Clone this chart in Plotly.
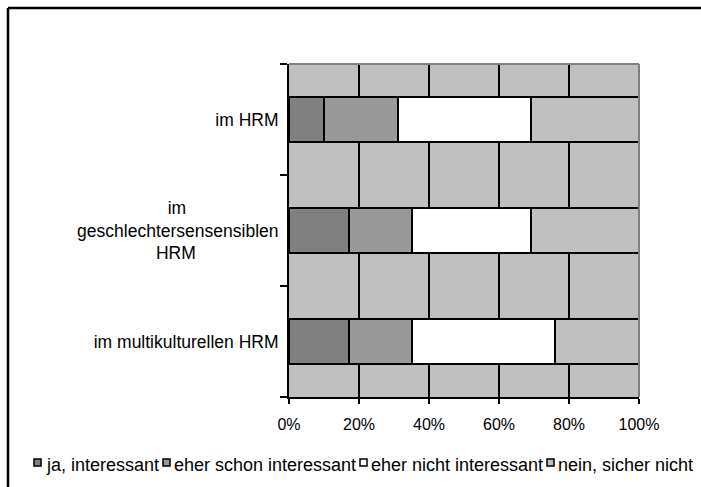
import plotly.graph_objects as go

NB = "\u00a0"
categories = ["im HRM",
              "im" + NB * 19 + "<br>geschlechtersensensiblen<br>HRM" + NB * 17,
              "im multikulturellen HRM"]
series_names = ["ja, interessant", "eher schon interessant", "eher nicht interessant", "nein, sicher nicht"]
ja = [10, 17, 17]
eher_schon = [21, 18, 18]
eher_nicht = [38, 34, 41]
nein = [31, 31, 24]
colors = ["#808080", "#999999", "#FFFFFF", "#C0C0C0"]
tick_vals = [0, 20, 40, 60, 80, 100]
tick_text = ["0%", "20%", "40%", "60%", "80%", "100%"]

W, H = 701, 487
ML, MR, MT, MB = 289, 62, 64, 90
PW, PH = W - ML - MR, H - MT - MB


def px_x(x):
    return (x - ML) / PW


def px_y(y):
    return (H - MB - y) / PH


FONT = "Liberation Sans, Arial, sans-serif"

fig = go.Figure()
for name, vals, col in zip(series_names, [ja, eher_schon, eher_nicht, nein], colors):
    fig.add_trace(go.Bar(
        y=categories, x=vals, name=name, orientation="h",
        marker=dict(color=col, line=dict(color="black", width=2)),
        width=0.4, showlegend=False,
    ))

fig.update_layout(
    barmode="stack",
    width=W, height=H,
    margin=dict(l=ML, r=MR, t=MT, b=MB),
    paper_bgcolor="white",
    plot_bgcolor="#C0C0C0",
    font=dict(family=FONT, size=17, color="black"),
    xaxis=dict(range=[0, 100], tickvals=tick_vals, ticktext=tick_text,
               tickfont=dict(family=FONT, size=16, color="black"),
               showgrid=True, gridcolor="black", gridwidth=1.5,
               showline=True, linecolor="black", linewidth=2,
               ticks="outside", ticklen=5, tickcolor="black", tickwidth=1.5,
               zeroline=False, ticklabelstandoff=7),
    yaxis=dict(categoryorder="array", categoryarray=categories[::-1],
               tickfont=dict(family=FONT, size=17.5, color="black"),
               showline=True, linecolor="black", linewidth=2,
               ticks="outside", ticklen=7, tickcolor="black", tickwidth=1.5,
               tickson="boundaries", showgrid=False, ticklabelstandoff=5),
)

# outer frame lines (top and left)
fig.add_shape(type="line", xref="paper", yref="paper",
              x0=px_x(8), x1=px_x(W + 5), y0=px_y(8), y1=px_y(8),
              line=dict(color="black", width=2.5))
fig.add_shape(type="line", xref="paper", yref="paper",
              x0=px_x(8), x1=px_x(8), y0=px_y(8), y1=px_y(H + 5),
              line=dict(color="black", width=2.5))
# gray top/right plot border
fig.add_shape(type="line", xref="paper", yref="paper", x0=0, x1=1, y0=1, y1=1,
              line=dict(color="#808080", width=2))
fig.add_shape(type="line", xref="paper", yref="paper", x0=1, x1=1, y0=0, y1=1,
              line=dict(color="#808080", width=2))

# legend (symbol squares + labels)
sq_left = [34, 163, 360, 547]
txt_left = [44, 172, 369, 556]
leg_y = 465
for name, col, sx, tx in zip(series_names, colors, sq_left, txt_left):
    fig.add_shape(type="rect", xref="paper", yref="paper",
                  x0=px_x(sx), x1=px_x(sx + 7), y0=px_y(leg_y + 1), y1=px_y(leg_y - 6),
                  fillcolor=col, line=dict(color="black", width=1.5))
    fig.add_annotation(xref="paper", yref="paper", x=px_x(tx), y=px_y(leg_y),
                       text=name, showarrow=False, xanchor="left", yanchor="middle",
                       font=dict(family=FONT, size=18, color="black"))

fig.write_html("out.html")
